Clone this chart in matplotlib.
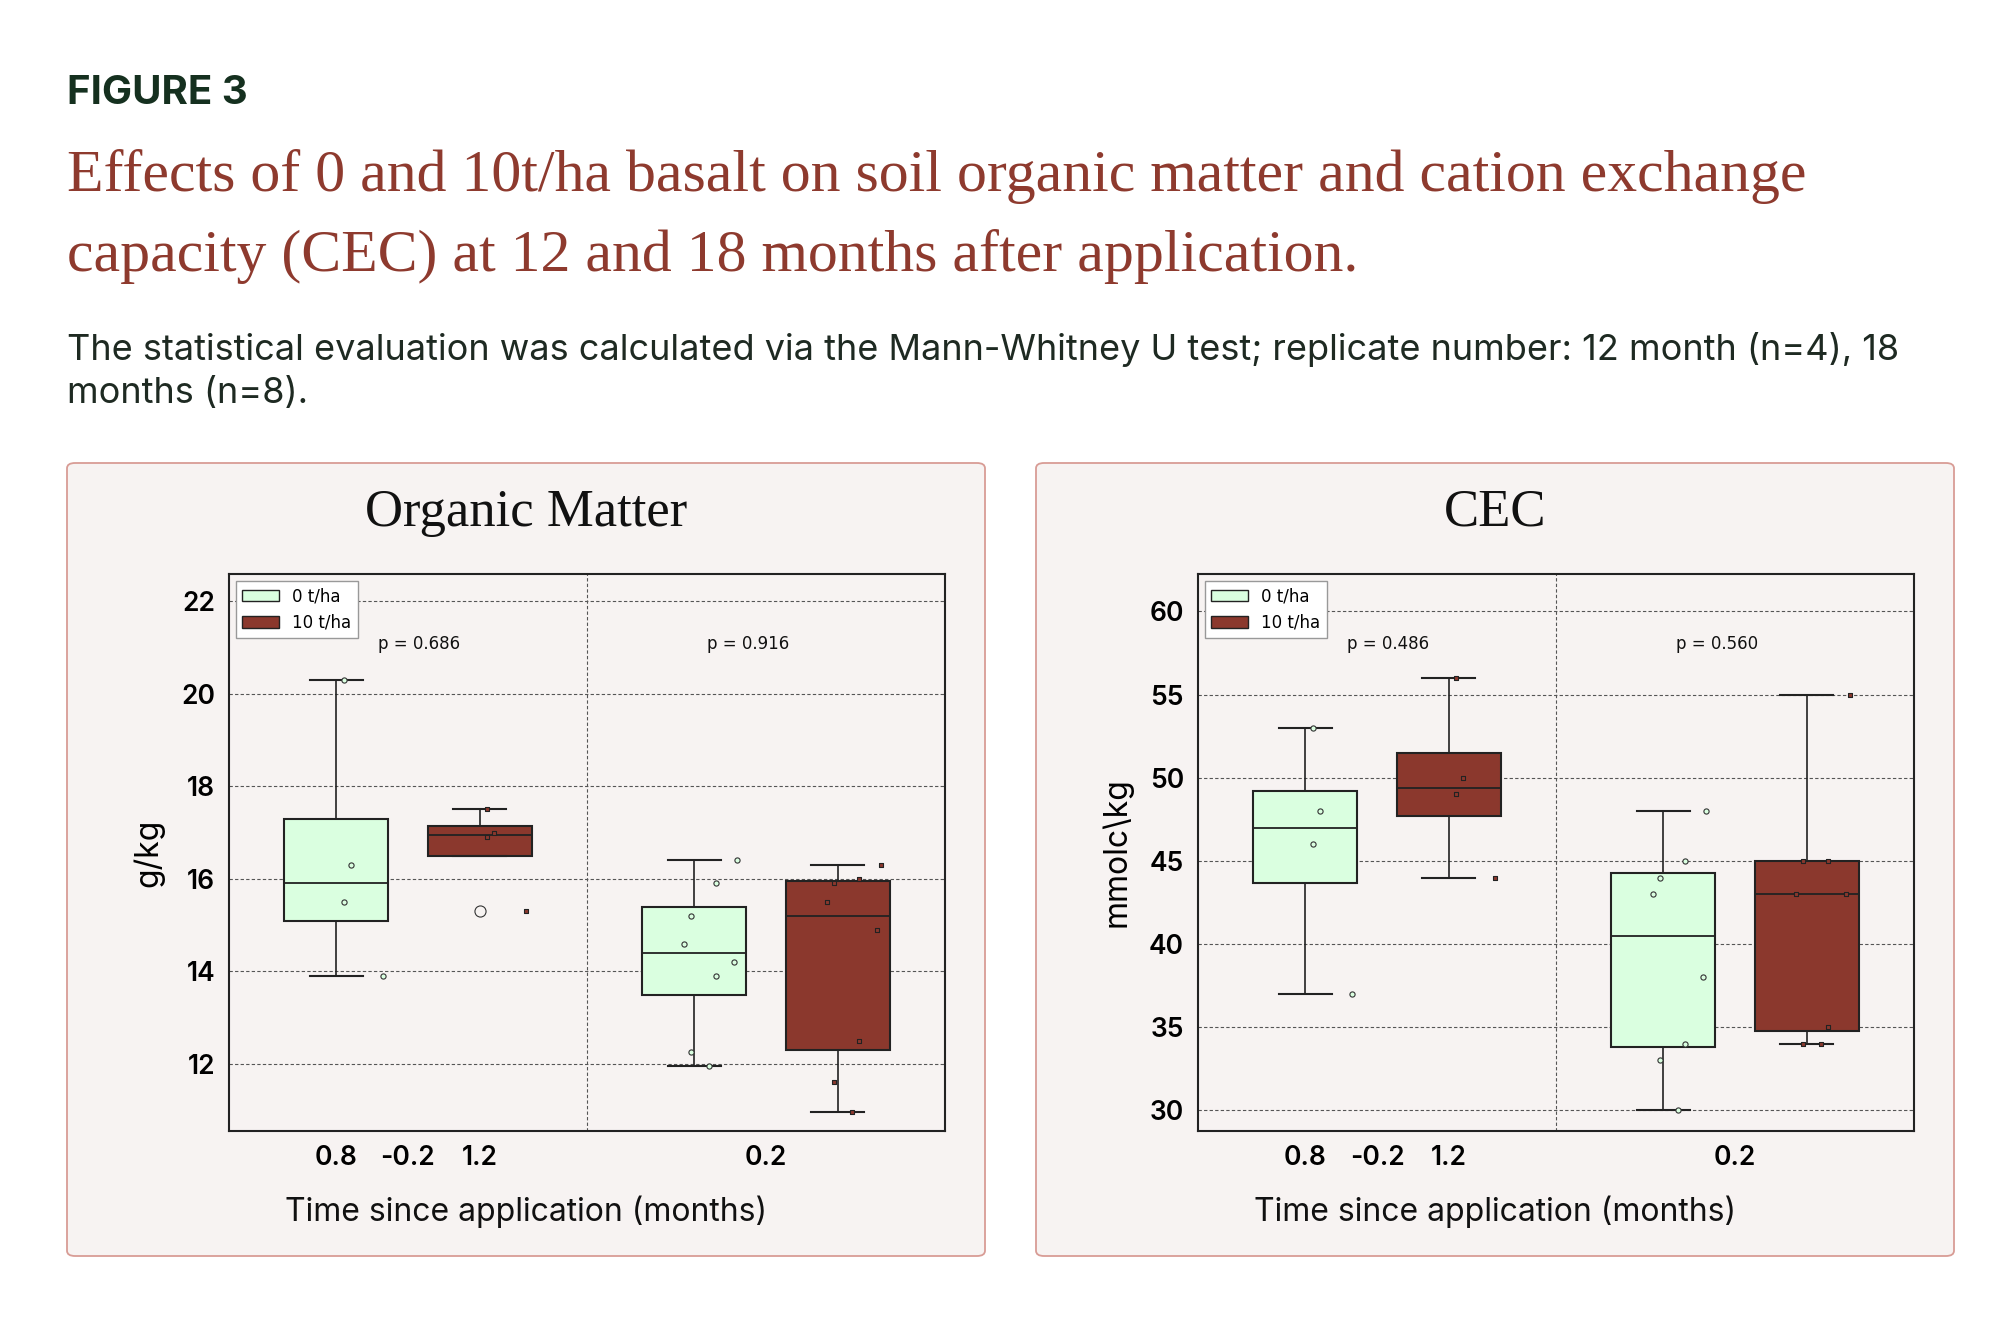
import matplotlib
matplotlib.use("Agg")
import matplotlib.pyplot as plt
from matplotlib.patches import FancyBboxPatch, Patch

months = ["12", "18"]
groups = ["0 t/ha", "10 t/ha"]

# Organic matter (g/kg): raw points per (month, group)
om_pts = {
    ("12", "0 t/ha"): [20.3, 16.3, 15.5, 13.9],
    ("12", "10 t/ha"): [17.5, 17.0, 16.9, 15.3],
    ("18", "0 t/ha"): [16.4, 15.9, 15.2, 14.6, 14.2, 13.9, 12.25, 11.95],
    ("18", "10 t/ha"): [16.3, 16.0, 15.9, 15.5, 14.9, 12.5, 11.6, 10.95],
}
# box stats: q1, median, q3, whisker low, whisker high, fliers
om_q1 = [15.1, 16.5, 13.5, 12.3]
om_med = [15.9, 16.95, 14.4, 15.2]
om_q3 = [17.3, 17.15, 15.4, 15.95]
om_wlo = [13.9, 16.5, 11.95, 10.95]
om_whi = [20.3, 17.5, 16.4, 16.3]
om_fliers = [[], [15.3], [], []]
om_p = ["p = 0.686", "p = 0.916"]

cec_pts = {
    ("12", "0 t/ha"): [53, 48, 46, 37],
    ("12", "10 t/ha"): [56, 50, 49, 44],
    ("18", "0 t/ha"): [48, 45, 44, 43, 38, 34, 33, 30],
    ("18", "10 t/ha"): [55, 45, 45, 43, 43, 35, 34, 34],
}
cec_q1 = [43.7, 47.7, 33.8, 34.8]
cec_med = [47.0, 49.4, 40.5, 43.0]
cec_q3 = [49.2, 51.5, 44.3, 45.0]
cec_wlo = [37, 44, 30, 34]
cec_whi = [53, 56, 48, 55]
cec_fliers = [[], [], [], []]
cec_p = ["p = 0.486", "p = 0.560"]

# fixed jitter offsets (styling only)
jit4 = [0.02, 0.04, 0.02, 0.13]
jit8 = [0.12, 0.06, -0.01, -0.03, 0.11, 0.06, -0.01, 0.04]

GREEN = "#DAFFE0"
RED = "#8B382D"
BG = "#F7F3F2"
TITLE = "#8E3A2E"

W, H = 2016, 1318
fig = plt.figure(figsize=(W / 100, H / 100), dpi=100)
fig.patch.set_facecolor("white")

def fx(x): return x / W
def fy(y): return 1 - y / H

fig.text(fx(67), fy(93), "FIGURE 3", fontsize=29, fontweight="bold", color="#15301F",
         family="Inter", va="center")
fig.text(fx(67), fy(177), "Effects of 0 and 10t/ha basalt on soil organic matter and cation exchange",
         fontsize=43, color=TITLE, family="Liberation Serif", va="center")
fig.text(fx(67), fy(256), "capacity (CEC) at 12 and 18 months after application.",
         fontsize=43, color=TITLE, family="Liberation Serif", va="center")
fig.text(fx(67), fy(350), "The statistical evaluation was calculated via the Mann-Whitney U test; replicate number: 12 month (n=4), 18",
         fontsize=26, color="#1E2A22", family="Inter", va="center")
fig.text(fx(67), fy(394), "months (n=8).", fontsize=26, color="#1E2A22", family="Inter", va="center")


def panel(px0, title, ylabel, pts, q1, med, q3, wlo, whi, fliers, ptxt, ylim, yticks):
    pw, ph = 918, 793
    py0 = 463
    bg = FancyBboxPatch((fx(px0), fy(py0 + ph)), fx(pw), ph / H,
                        boxstyle="round,pad=0,rounding_size=0.004",
                        transform=fig.transFigure, facecolor=BG, edgecolor="#D89C95",
                        linewidth=1.3, zorder=-10)
    fig.patches.append(bg)
    fig.text(fx(px0 + pw / 2), fy(513), title, fontsize=38, family="Liberation Serif",
             ha="center", va="center", color="#111")
    ax0, ay0, ax1, ay1 = px0 + 162, 574, px0 + 878, 1131
    ax = fig.add_axes([fx(ax0), fy(ay1), fx(ax1 - ax0), (ay1 - ay0) / H])
    ax.set_facecolor(BG)
    ax.set_xlim(-0.5, 1.5)
    ax.set_ylim(*ylim)
    ax.set_yticks(yticks)
    ax.set_xticks([0, 1])
    ax.set_xticklabels(months)
    ax.tick_params(axis="both", length=0, labelsize=19, pad=10)
    for lab in ax.get_xticklabels() + ax.get_yticklabels():
        lab.set_fontweight("semibold")
        lab.set_family("Inter")
    ax.grid(axis="y", linestyle=(0, (3, 2)), color="#555", linewidth=0.8)
    ax.axvline(0.5, linestyle=(0, (3, 2)), color="#555", linewidth=0.8)
    for s in ax.spines.values():
        s.set_linewidth(1.5)
        s.set_color("#222")
    stats, pos, cols = [], [], []
    i = 0
    for mi, m in enumerate(months):
        for gi, g in enumerate(groups):
            stats.append(dict(q1=q1[i], med=med[i], q3=q3[i], whislo=wlo[i],
                              whishi=whi[i], fliers=fliers[i]))
            pos.append(mi + (-0.2 if gi == 0 else 0.2))
            cols.append(GREEN if gi == 0 else RED)
            i += 1
    bp = ax.bxp(stats, positions=pos, widths=0.29, patch_artist=True, showfliers=True,
                boxprops=dict(linewidth=1.5, edgecolor="#222"),
                medianprops=dict(color="#222", linewidth=1.3),
                whiskerprops=dict(color="#222", linewidth=1.2),
                capprops=dict(color="#222", linewidth=1.5),
                capwidths=0.15,
                flierprops=dict(marker="o", markerfacecolor="none", markeredgecolor="#333",
                                markersize=8, markeredgewidth=0.8))
    for b, c in zip(bp["boxes"], cols):
        b.set_facecolor(c)
        b.set_zorder(2)
    i = 0
    for mi, m in enumerate(months):
        for gi, g in enumerate(groups):
            vals = pts[(m, g)]
            jit = jit4 if len(vals) == 4 else jit8
            xs = [pos[i] + j for j in jit]
            if gi == 0:
                ax.scatter(xs, vals, s=14, marker="o", facecolor=GREEN, edgecolor="#333",
                           linewidth=0.8, zorder=4)
            else:
                ax.scatter(xs, vals, s=12, marker="s", facecolor=RED, edgecolor="#222",
                           linewidth=0.8, zorder=4)
            i += 1
    for mi, t in enumerate(ptxt):
        ax.text(mi + (0.03 if mi == 0 else -0.05), ylim[1] - (ylim[1] - ylim[0]) * 0.125,
                t, fontsize=12, ha="center", va="center", color="#111")
    ax.legend(handles=[Patch(facecolor=GREEN, edgecolor="#222", label=groups[0]),
                       Patch(facecolor=RED, edgecolor="#222", label=groups[1])],
              loc="upper left", fontsize=12, frameon=True, fancybox=False,
              edgecolor="#999", framealpha=1, handlelength=2.2, borderaxespad=0.4)
    ax.set_ylabel(ylabel, fontsize=23, labelpad=12, family="Inter")
    fig.text(fx(px0 + pw / 2), fy(1212), "Time since application (months)", fontsize=23,
             ha="center", va="center", color="#111", family="Inter")
    return ax


panel(67, "Organic Matter", "g/kg", om_pts, om_q1, om_med, om_q3, om_wlo, om_whi,
      om_fliers, om_p, (10.55, 22.59), [12, 14, 16, 18, 20, 22])
panel(1036, "CEC", "mmolc\\kg", cec_pts, cec_q1, cec_med, cec_q3, cec_wlo, cec_whi,
      cec_fliers, cec_p, (28.76, 62.25), [30, 35, 40, 45, 50, 55, 60])

fig.savefig("out.png", dpi=100)
